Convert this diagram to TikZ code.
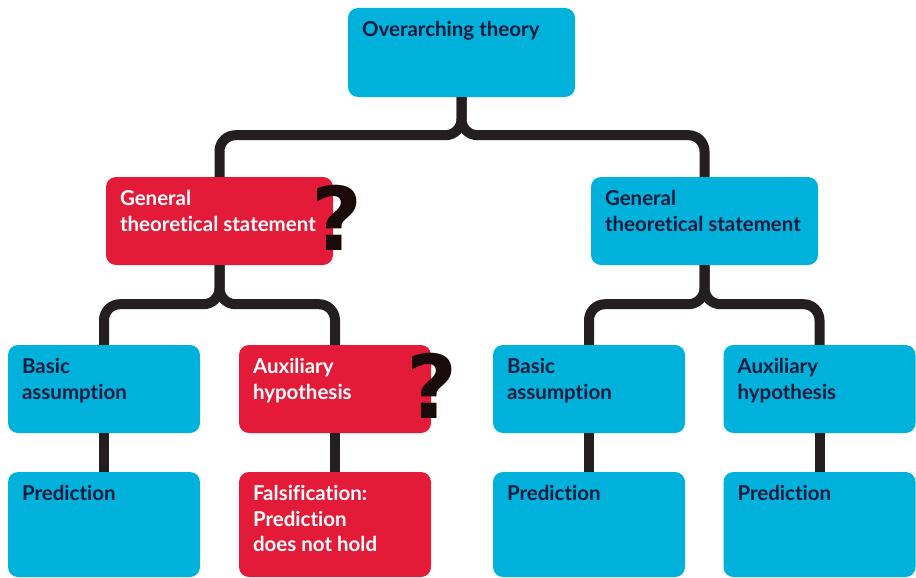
\documentclass[tikz,border=0pt]{standalone}
\usepackage{fontspec}
\setmainfont{Lato}[Ligatures=NoCommon]
\newfontfamily\qfont{DejaVu Sans}
\usetikzlibrary{calc}
\definecolor{boxblue}{HTML}{00B1DB}
\definecolor{boxred}{HTML}{E31A38}
\definecolor{inkdark}{HTML}{0F1B3D}
\definecolor{linedark}{HTML}{231F20}
\definecolor{qmark}{HTML}{1A0A0A}
\begin{document}
\begin{tikzpicture}[x=1pt,y=-1pt,
  box/.style={rectangle, rounded corners=10pt, inner sep=0pt, draw=none},
  bluebox/.style={box, fill=boxblue},
  redbox/.style={box, fill=boxred},
  wide/.style={minimum width=227pt, minimum height=88pt},
  narrow/.style={minimum width=192pt, minimum height=88pt},
  tall/.style={minimum width=192pt, minimum height=105pt},
  lbl/.style={anchor=base west, inner sep=0pt, align=left,
    font=\fontsize{20.5}{25.5}\selectfont\bfseries},
  dark/.style={lbl, text=inkdark},
  light/.style={lbl, text=white},
  conn/.style={draw=linedark, line width=10pt, rounded corners=16pt},
  quest/.style={anchor=base, inner sep=0pt, text=qmark,
    font=\qfont\fontsize{88}{88}\selectfont\bfseries}
]
\useasboundingbox (0,0) rectangle (916,578);

% boxes
\node[bluebox, wide, minimum height=89pt] (top) at (461.5,52.5) {};
\node[redbox, wide] (gl) at (219.5,221) {};
\node[bluebox, wide] (gr) at (704.5,221) {};

\node[bluebox, narrow] (bl) at (104,389) {};
\node[redbox, narrow] (al) at (335,389) {};
\node[bluebox, narrow] (br) at (589,389) {};
\node[bluebox, narrow] (ar) at (819.5,389) {};

\node[bluebox, tall] (pl) at (104,524.5) {};
\node[redbox, tall] (fl) at (335,524.5) {};
\node[bluebox, tall] (pr) at (589,524.5) {};
\node[bluebox, tall] (qr) at (819.5,524.5) {};

% connectors
\draw[conn] (top.south) -- ++(0,38) -| (gl.north);
\draw[conn] (top.south) -- ++(0,38) -| (gr.north);
\draw[conn] (gl.south) -- ++(0,39) -| (bl.north);
\draw[conn] (gl.south) -- ++(0,39) -| (al.north);
\draw[conn] (gr.south) -- ++(0,39) -| (br.north);
\draw[conn] (gr.south) -- ++(0,39) -| (ar.north);
\draw[conn] (bl.south) -- (pl.north);
\draw[conn] (al.south) -- (fl.north);
\draw[conn] (br.south) -- (pr.north);
\draw[conn] (ar.south) -- (qr.north);

% labels (base anchor sits on the last line)
\node[dark] (ttop) at ($(top.north west)+(14,29)$) {Overarching theory};
\node[light] (tgl) at ($(gl.north west)+(14,54.5)$) {General\\theoretical statement};
\node[dark] (tgr) at ($(gr.north west)+(14,54.5)$) {General\\theoretical statement};
\node[dark] (tbl) at ($(bl.north west)+(14,54.5)$) {Basic\\assumption};
\node[light] (tal) at ($(al.north west)+(14,54.5)$) {Auxiliary\\hypothesis};
\node[dark] (tbr) at ($(br.north west)+(14,54.5)$) {Basic\\assumption};
\node[dark] (tar) at ($(ar.north west)+(14,54.5)$) {Auxiliary\\hypothesis};
\node[dark] (tpl) at ($(pl.north west)+(14,29)$) {Prediction};
\node[light] (tfl) at ($(fl.north west)+(14,80)$) {Falsification:\\Prediction\\does not hold};
\node[dark] (tpr) at ($(pr.north west)+(14,29)$) {Prediction};
\node[dark] (tqr) at ($(qr.north west)+(14,29)$) {Prediction};

% question marks
\node[quest] (q1) at (337,250) {?};
\node[quest] (q2) at (432,418) {?};
\end{tikzpicture}
\end{document}
